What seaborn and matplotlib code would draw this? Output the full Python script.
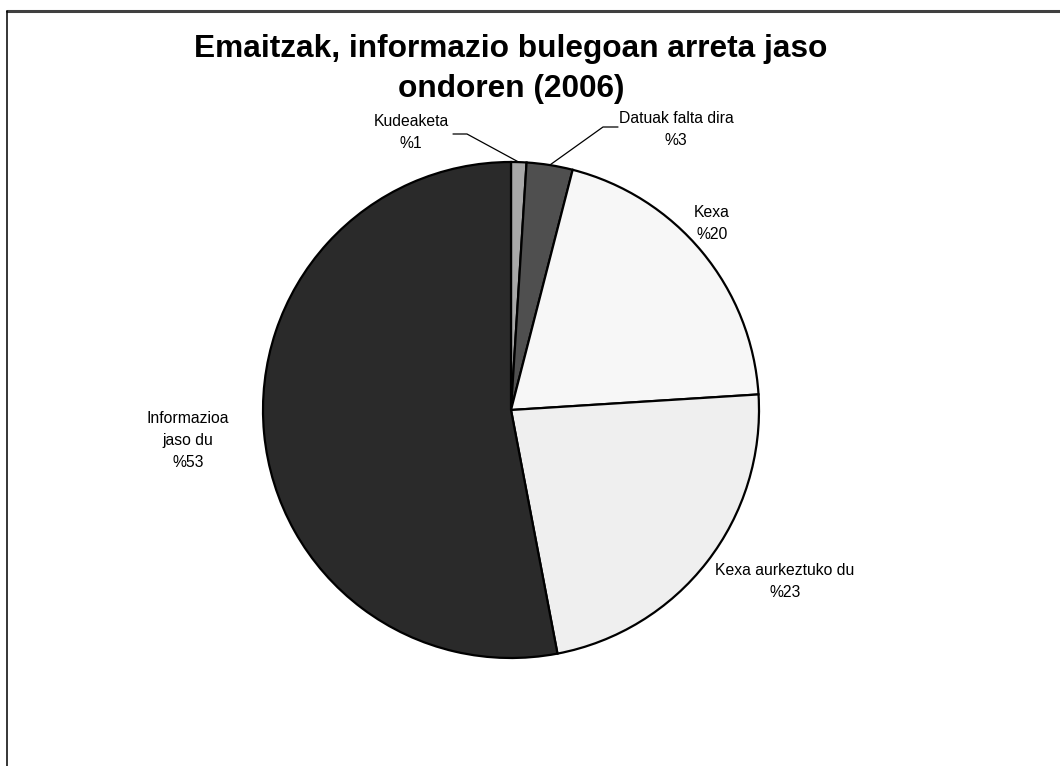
import numpy as np
import matplotlib
matplotlib.use("Agg")
import matplotlib.pyplot as plt
import seaborn as sns

# Datuak
kategoriak = ["Kudeaketa", "Datuak falta dira", "Kexa", "Kexa aurkeztuko du", "Informazioa\njaso du"]
balioak = [1, 3, 20, 23, 53]
etiketak = ["%1", "%3", "%20", "%23", "%53"]
koloreak = ["#a8a8a8", "#4f4f4f", "#f7f7f7", "#efefef", "#2a2a2a"]

sns.set_theme(style="white")
plt.rcParams['font.family'] = ['Liberation Sans', 'DejaVu Sans']

W, H = 1060, 766
fig = plt.figure(figsize=(W / 100, H / 100), dpi=100)
ax = fig.add_axes([0, 0, 1, 1])

cx, cy, r = 511, H - 410, 248
wedges, _ = ax.pie(balioak, colors=koloreak, startangle=90, counterclock=False,
                   center=(cx, cy), radius=r, frame=True,
                   wedgeprops=dict(edgecolor='black', linewidth=1.6))
ax.set_xlim(0, W)
ax.set_ylim(0, H)
ax.set_aspect('equal')
ax.axis('off')

# Etiketen kokapenak (pixeletan, goitik behera)
etiketa_pos = [(411, 114), (676, 111), (712, 205), (785, 563), (188, 411)]
for i, (izena, ehuneko) in enumerate(zip(kategoriak, etiketak)):
    px, py = etiketa_pos[i]
    ax.text(px, H - py, izena + "\n" + ehuneko, ha='center', va='top',
            fontsize=11.3, linespacing=1.6, color='black')

# Lerro gidariak bi zati txikientzat
for i, (hx0, hx1, hy) in [(0, (453, 467, 134)), (1, (618, 603, 127))]:
    w = wedges[i]
    ang = np.deg2rad((w.theta1 + w.theta2) / 2)
    ex = cx + r * np.cos(ang)
    ey = cy + r * np.sin(ang)
    ax.plot([hx0, hx1, ex], [H - hy, H - hy, ey], color='black', lw=0.9)

# Izenburua
fig.text(511 / W, 1 - 69 / H, "Emaitzak, informazio bulegoan arreta jaso\nondoren (2006)",
         ha='center', va='center', fontsize=22.8, fontweight='bold',
         linespacing=1.45, color='black')

# Ertzak
fig.add_artist(plt.Line2D([7 / W, 1], [1 - 11 / H, 1 - 11 / H], color='#404040', lw=2.2))
fig.add_artist(plt.Line2D([7 / W, 7 / W], [0, 1 - 11 / H], color='black', lw=1.1))

fig.savefig("out.png", dpi=100)
